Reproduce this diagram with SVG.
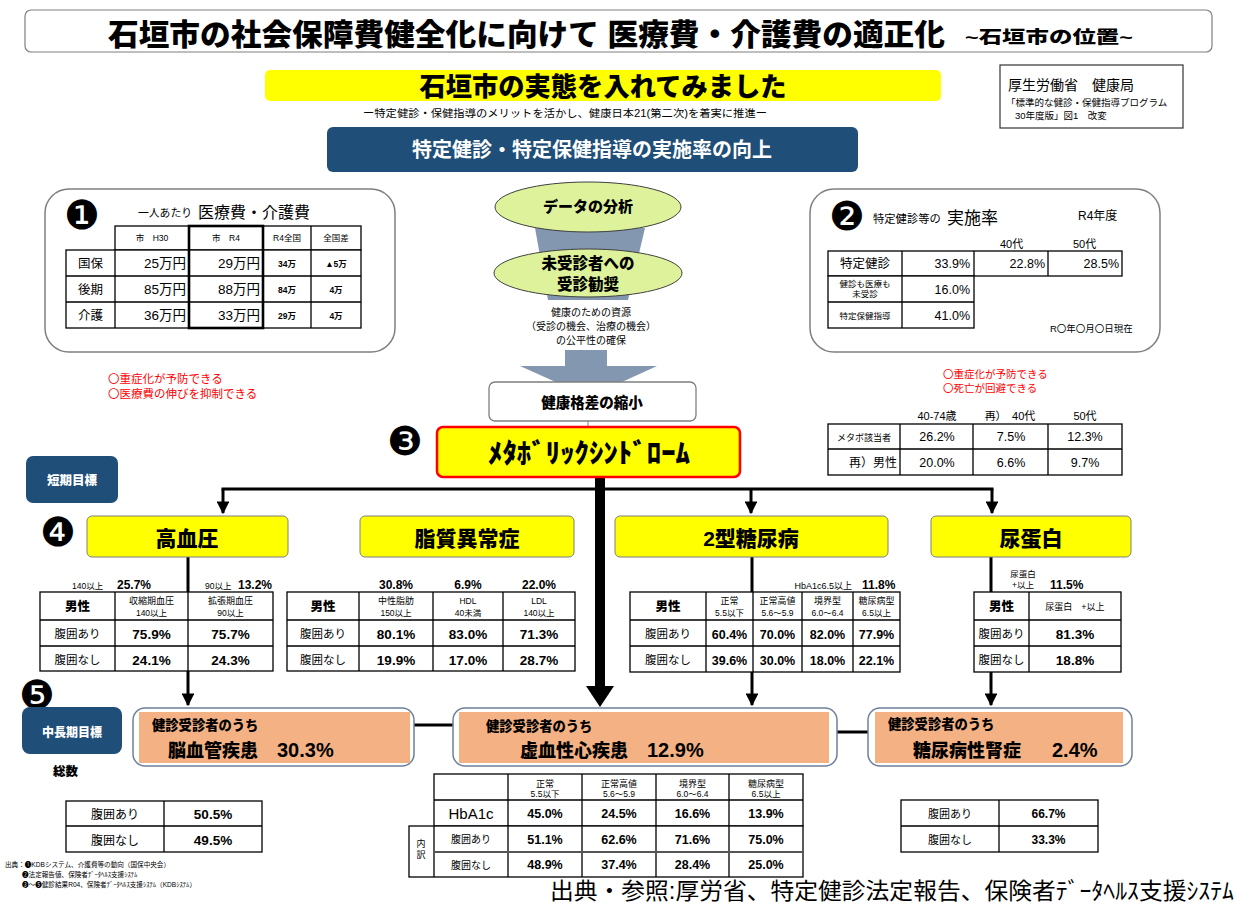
<svg xmlns="http://www.w3.org/2000/svg" width="1236" height="904" viewBox="0 0 1236 904">
<defs>
<style>
text{font-family:"Liberation Sans","Noto Sans CJK JP",sans-serif;fill:#000}
.b{font-weight:bold}
.k{font-weight:900}
.c{text-anchor:middle}
.e{text-anchor:end}
.red{fill:#FF0000}
.wt{fill:#FFFFFF}
.g{fill:#333333}
.cell{fill:#FFFFFF;stroke:#000000;stroke-width:1.3}
.ln{stroke:#000000;stroke-width:1.3;fill:none}
.circ{font-family:"DejaVu Sans",sans-serif;font-size:40px}
.ybox{fill:#FFFF00;stroke:#7F7F7F;stroke-width:1}
.navy{fill:#1F4E79}
.obox{fill:#FFFFFF;stroke:#6F7F99;stroke-width:1.5}
.orng{fill:#F4B183}
.conn{stroke:#000000;stroke-width:3;fill:none}
.ell{fill:#DDF29B;stroke:#404040;stroke-width:1}
.garr{fill:#8497B0}
.rbox{fill:#FFFFFF;stroke:#7F7F7F;stroke-width:1.3}
.v{font-weight:bold;font-size:13.5px}
.s{font-size:8.5px}
.h{font-size:9px}
.lb{font-size:11.5px}
</style>
<marker id="ah" viewBox="0 0 10 10" refX="9" refY="5" markerWidth="4.3" markerHeight="4.3" orient="auto" markerUnits="strokeWidth"><path d="M0,0 L10,5 L0,10 z" fill="#000000"/></marker>
</defs>
<rect width="1236" height="904" fill="#FFFFFF"/>

<g id="title">
<rect x="25" y="10" width="1187" height="42" rx="6" fill="#FFFFFF" stroke="#7F7F7F" stroke-width="1.2"/>
<text x="108" y="45" class="k" font-size="30" textLength="837" lengthAdjust="spacingAndGlyphs">石垣市の社会保障費健全化に向けて 医療費・介護費の適正化</text>
<text x="965" y="43" class="k" font-size="17" textLength="168" lengthAdjust="spacingAndGlyphs">~石垣市の位置~</text>
</g>

<g id="banner">
<rect x="265" y="70" width="676" height="31" rx="5" fill="#FFFF00"/>
<text x="603" y="96" class="k c" font-size="26" textLength="367" lengthAdjust="spacingAndGlyphs">石垣市の実態を入れてみました</text>
<text x="565" y="117" class="c" font-size="10.5" textLength="404" lengthAdjust="spacingAndGlyphs">ー特定健診・保健指導のメリットを活かし、健康日本21(第二次)を着実に推進ー</text>
</g>

<g id="source-note">
<rect x="1000" y="65" width="183" height="63" fill="#FFFFFF" stroke="#333333" stroke-width="1.2"/>
<text x="1008" y="90" font-size="14">厚生労働省　健康局</text>
<text x="1006" y="106" font-size="9.5">「標準的な健診・保健指導プログラム</text>
<text x="1015" y="119" font-size="9.5">30年度版」図1　改変</text>
</g>

<g id="goal-box">
<rect x="327" y="127" width="531" height="45" rx="6" class="navy"/>
<text x="592" y="157" class="b c wt" font-size="20" textLength="360" lengthAdjust="spacingAndGlyphs">特定健診・特定保健指導の実施率の向上</text>
</g>

<g id="flow-arrows">
<polygon class="garr" points="535,228 645,228 628,300 548,300"/>
<rect class="garr" x="565" y="350" width="42" height="17"/>
<polygon class="garr" points="520,366 657,366 589,397"/>
</g>

<g id="connectors">
<line x1="588" y1="421" x2="588" y2="427" stroke="#7F7F7F" stroke-width="1"/>
<line x1="600" y1="477" x2="600" y2="688" stroke="#000000" stroke-width="10"/>
<polygon points="586,686 614,686 600,707" fill="#000000"/>
<line class="conn" x1="221.5" y1="489" x2="993.5" y2="489"/>
<line class="conn" x1="223" y1="489" x2="223" y2="513" marker-end="url(#ah)"/>
<line class="conn" x1="751" y1="489" x2="751" y2="513" marker-end="url(#ah)"/>
<line class="conn" x1="992" y1="489" x2="992" y2="513" marker-end="url(#ah)"/>
<line class="conn" x1="188" y1="557" x2="188" y2="705" marker-end="url(#ah)"/>
<line class="conn" x1="752" y1="557" x2="752" y2="705" marker-end="url(#ah)"/>
<line class="conn" x1="991" y1="557" x2="991" y2="705" marker-end="url(#ah)"/>
<line class="conn" x1="414" y1="725" x2="453" y2="725"/>
<line class="conn" x1="837" y1="732" x2="868" y2="732"/>
</g>

<g id="n1-cost">
<rect x="45" y="189" width="350" height="163" rx="24" fill="#FFFFFF" stroke="#7F7F7F" stroke-width="1.5"/>
<text x="82" y="229" class="circ c">❶</text>
<text x="138" y="217" font-size="10.8">一人あたり</text>
<text x="198" y="218" font-size="16">医療費・介護費</text>
<rect x="115" y="226" width="246" height="24" class="cell"/>
<rect x="66" y="250" width="295" height="78" class="cell"/>
<path class="ln" d="M263,226V328M311,226V328M115,250V328M66,276H361M66,302H361"/>
<rect x="189" y="226" width="74" height="102" fill="none" stroke="#000000" stroke-width="2.6"/>
<g class="s c">
<text x="152" y="241">市　H30</text>
<text x="226" y="241">市　R4</text>
<text x="287" y="241">R4全国</text>
<text x="336" y="241">全国差</text>
</g>
<g font-size="12.5" class="c">
<text x="90.5" y="268">国保</text>
<text x="90.5" y="294">後期</text>
<text x="90.5" y="320">介護</text>
</g>
<g font-size="13.5" class="e">
<text x="186" y="268">25万円</text>
<text x="186" y="294">85万円</text>
<text x="186" y="320">36万円</text>
<text x="260" y="268">29万円</text>
<text x="260" y="294">88万円</text>
<text x="260" y="320">33万円</text>
</g>
<g class="s c b">
<text x="287" y="267">34万</text>
<text x="287" y="293">84万</text>
<text x="287" y="319">29万</text>
<text x="336" y="267">▲5万</text>
<text x="336" y="293">4万</text>
<text x="336" y="319">4万</text>
</g>
</g>

<g id="n2-rate">
<rect x="810" y="189" width="350" height="163" rx="24" fill="#FFFFFF" stroke="#7F7F7F" stroke-width="1.5"/>
<text x="847" y="230" class="circ c">❷</text>
<text x="873" y="223" font-size="11.3">特定健診等の</text>
<text x="947" y="224" font-size="17">実施率</text>
<text x="1078" y="220" font-size="12">R4年度</text>
<text x="1000" y="248" font-size="11">40代</text>
<text x="1073" y="248" font-size="11">50代</text>
<rect x="828" y="251" width="294" height="25" class="cell"/>
<rect x="828" y="276" width="146" height="52" class="cell"/>
<path class="ln" d="M902,251V328M974,251V276M1048,251V276M828,302H974"/>
<text x="865" y="268" font-size="12.5" class="c">特定健診</text>
<text x="865" y="287" class="s c">健診も医療も</text>
<text x="865" y="297" class="s c">未受診</text>
<text x="865" y="319" class="s c">特定保健指導</text>
<g font-size="12.5" class="e">
<text x="970" y="268">33.9%</text>
<text x="1045" y="268">22.8%</text>
<text x="1119" y="268">28.5%</text>
<text x="970" y="294">16.0%</text>
<text x="970" y="320">41.0%</text>
</g>
<text x="1050" y="332" font-size="9.5">R〇年〇月〇日現在</text>
</g>

<g id="e1-analysis">
<ellipse cx="588" cy="207" rx="93" ry="25" class="ell"/>
<text x="588" y="212" class="k c" font-size="15">データの分析</text>
</g>

<g id="e2-recommend">
<ellipse cx="588" cy="273" rx="94" ry="24" class="ell"/>
<text x="588" y="269" class="k c" font-size="15.5">未受診者への</text>
<text x="588" y="290" class="k c" font-size="15.5">受診勧奨</text>
</g>

<g id="resource-note" class="c g" font-size="10">
<text x="591" y="316">健康のための資源</text>
<text x="591" y="330">（受診の機会、治療の機会）</text>
<text x="591" y="344">の公平性の確保</text>
</g>

<g id="gap-box">
<rect x="489" y="382" width="207" height="39" rx="6" class="rbox"/>
<text x="592" y="408" class="k c" font-size="14.5">健康格差の縮小</text>
</g>

<g id="n3-metabo">
<text x="405" y="455" class="circ c">❸</text>
<rect x="437" y="427" width="303" height="50" rx="6" fill="#FFFF00" stroke="#FF0000" stroke-width="2.5"/>
<text x="589" y="463" class="k c" font-size="27" textLength="202" lengthAdjust="spacingAndGlyphs">ﾒﾀﾎﾞﾘｯｸｼﾝﾄﾞﾛｰﾑ</text>
</g>

<g id="effects-left" font-size="11.5">
<text x="108" y="383" class="red">〇重症化が予防できる</text>
<text x="108" y="398" class="red">〇医療費の伸びを抑制できる</text>
</g>
<g id="effects-right" font-size="10.5">
<text x="943" y="378" class="red">〇重症化が予防できる</text>
<text x="943" y="392" class="red">〇死亡が回避できる</text>
</g>

<g id="metabo-table">
<g font-size="11" class="c">
<text x="937" y="420">40-74歳</text>
<text x="1010" y="420">再）　40代</text>
<text x="1085" y="420">50代</text>
</g>
<rect x="828" y="424" width="294" height="51" class="cell"/>
<path class="ln" d="M900,424V475M973,424V475M1048,424V475M828,449H1122"/>
<text x="864" y="441" class="h c">メタボ該当者</text>
<text x="897" y="467" class="e" font-size="12">再）男性</text>
<g font-size="12.5" class="c">
<text x="937" y="441">26.2%</text>
<text x="1011" y="441">7.5%</text>
<text x="1085" y="441">12.3%</text>
<text x="937" y="467">20.0%</text>
<text x="1011" y="467">6.6%</text>
<text x="1085" y="467">9.7%</text>
</g>
</g>

<g id="short-goal">
<rect x="26" y="456" width="92" height="47" rx="7" class="navy"/>
<text x="72" y="485" class="k c wt" font-size="12.5">短期目標</text>
<text x="58" y="546" class="circ c">❹</text>
</g>

<g id="hypertension">
<rect x="87" y="516" width="201" height="41" rx="5" class="ybox"/>
<text x="187" y="546" class="k c" font-size="21">高血圧</text>
<text x="72" y="589" class="s">140以上</text>
<text x="117" y="589" class="b" font-size="12">25.7%</text>
<text x="205" y="589" class="s">90以上</text>
<text x="238" y="589" class="b" font-size="12">13.2%</text>
<rect x="40" y="592" width="233" height="79" class="cell"/>
<path class="ln" d="M115,592V671M188,592V671M40,620H273M40,646H273"/>
<text x="77.5" y="611" class="k c" font-size="12.5">男性</text>
<text x="151.5" y="604" class="h c">収縮期血圧</text>
<text x="151.5" y="616" class="s c">140以上</text>
<text x="230.5" y="604" class="h c">拡張期血圧</text>
<text x="230.5" y="616" class="s c">90以上</text>
<text x="77.5" y="638" class="lb c">腹囲あり</text>
<text x="77.5" y="664" class="lb c">腹囲なし</text>
<g class="v c">
<text x="151.5" y="639">75.9%</text>
<text x="230.5" y="639">75.7%</text>
<text x="151.5" y="665">24.1%</text>
<text x="230.5" y="665">24.3%</text>
</g>
</g>

<g id="dyslipidemia">
<rect x="360" y="516" width="214" height="41" rx="5" class="ybox"/>
<text x="467" y="546" class="k c" font-size="21">脂質異常症</text>
<g class="b c" font-size="12">
<text x="396" y="589">30.8%</text>
<text x="468" y="589">6.9%</text>
<text x="539" y="589">22.0%</text>
</g>
<rect x="287" y="592" width="288" height="79" class="cell"/>
<path class="ln" d="M359,592V671M433,592V671M503,592V671M287,620H575M287,646H575"/>
<text x="323" y="611" class="k c" font-size="12.5">男性</text>
<text x="396" y="604" class="h c">中性脂肪</text>
<text x="396" y="616" class="s c">150以上</text>
<text x="468" y="604" class="s c">HDL</text>
<text x="468" y="616" class="s c">40未満</text>
<text x="539" y="604" class="s c">LDL</text>
<text x="539" y="616" class="s c">140以上</text>
<text x="323" y="638" class="lb c">腹囲あり</text>
<text x="323" y="664" class="lb c">腹囲なし</text>
<g class="v c">
<text x="396" y="639">80.1%</text>
<text x="468" y="639">83.0%</text>
<text x="539" y="639">71.3%</text>
<text x="396" y="665">19.9%</text>
<text x="468" y="665">17.0%</text>
<text x="539" y="665">28.7%</text>
</g>
</g>

<g id="diabetes">
<rect x="615" y="516" width="273" height="41" rx="5" class="ybox"/>
<text x="751" y="546" class="k c" font-size="21">2型糖尿病</text>
<text x="852" y="589" class="h e">HbA1c6.5以上</text>
<text x="862" y="589" class="b" font-size="12">11.8%</text>
<rect x="630" y="592" width="270" height="80" class="cell"/>
<path class="ln" d="M706,592V672M753,592V672M802,592V672M853,592V672M630,620H900M630,646H900"/>
<text x="668" y="611" class="k c" font-size="12.5">男性</text>
<text x="729.5" y="604" class="h c">正常</text>
<text x="729.5" y="616" class="s c">5.5以下</text>
<text x="777.5" y="604" class="h c">正常高値</text>
<text x="777.5" y="616" class="s c">5.6～5.9</text>
<text x="827.5" y="604" class="h c">境界型</text>
<text x="827.5" y="616" class="s c">6.0～6.4</text>
<text x="876.5" y="604" class="h c">糖尿病型</text>
<text x="876.5" y="616" class="s c">6.5以上</text>
<text x="668" y="638" class="lb c">腹囲あり</text>
<text x="668" y="664" class="lb c">腹囲なし</text>
<g class="c b" font-size="12.5">
<text x="729.5" y="639">60.4%</text>
<text x="777.5" y="639">70.0%</text>
<text x="827.5" y="639">82.0%</text>
<text x="876.5" y="639">77.9%</text>
<text x="729.5" y="665">39.6%</text>
<text x="777.5" y="665">30.0%</text>
<text x="827.5" y="665">18.0%</text>
<text x="876.5" y="665">22.1%</text>
</g>
</g>

<g id="proteinuria">
<rect x="931" y="516" width="200" height="41" rx="5" class="ybox"/>
<text x="1031" y="546" class="k c" font-size="21">尿蛋白</text>
<text x="1023" y="577" class="s c">尿蛋白</text>
<text x="1023" y="588" class="s c">+以上</text>
<text x="1050" y="589" class="b" font-size="12">11.5%</text>
<rect x="974" y="592" width="147" height="80" class="cell"/>
<path class="ln" d="M1029,592V672M974,620H1121M974,646H1121"/>
<text x="1001.5" y="611" class="k c" font-size="12.5">男性</text>
<text x="1075" y="610" class="h c">尿蛋白　+以上</text>
<text x="1001.5" y="638" class="lb c">腹囲あり</text>
<text x="1001.5" y="664" class="lb c">腹囲なし</text>
<text x="1075" y="639" class="v c">81.3%</text>
<text x="1075" y="665" class="v c">18.8%</text>
</g>

<g id="long-goal">
<text x="37" y="709" class="circ c">❺</text>
<rect x="22" y="707" width="100" height="47" rx="8" class="navy"/>
<text x="72" y="737" class="k c wt" font-size="12">中長期目標</text>
<text x="53" y="776" class="k" font-size="12.5">総数</text>
</g>

<g id="cerebrovascular">
<rect x="133" y="708" width="281" height="58" rx="12" class="obox"/>
<rect x="139" y="712" width="271" height="51" class="orng"/>
<text x="152" y="730" class="k" font-size="13.3">健診受診者のうち</text>
<text x="168" y="757" class="k" font-size="18">脳血管疾患</text>
<text x="277" y="757" class="b" font-size="20">30.3%</text>
<rect x="66" y="801" width="196" height="51" class="cell"/>
<path class="ln" d="M164,801V852M66,826H262"/>
<text x="115" y="819" class="c" font-size="12">腹囲あり</text>
<text x="115" y="845" class="c" font-size="12">腹囲なし</text>
<text x="213" y="819" class="v c">50.5%</text>
<text x="213" y="845" class="v c">49.5%</text>
</g>

<g id="ischemic-heart">
<rect x="453" y="708" width="384" height="58" rx="12" class="obox"/>
<rect x="459" y="712" width="370" height="51" class="orng"/>
<text x="486" y="731" class="k" font-size="13.3">健診受診者のうち</text>
<text x="520" y="757" class="k" font-size="18">虚血性心疾患</text>
<text x="647" y="757" class="b" font-size="20">12.9%</text>
<rect x="434" y="774" width="369" height="52" class="cell"/>
<rect x="409" y="826" width="394" height="51" class="cell"/>
<path class="ln" d="M508,774V877M582,774V877M656,774V877M729,774V877M434,826V877M434,800H803"/>
<line x1="434" y1="852" x2="803" y2="852" stroke="#555555" stroke-width="2"/>
<text x="545" y="787" class="h c">正常</text>
<text x="545" y="797" class="s c">5.5以下</text>
<text x="619" y="787" class="h c">正常高値</text>
<text x="619" y="797" class="s c">5.6～5.9</text>
<text x="692.5" y="787" class="h c">境界型</text>
<text x="692.5" y="797" class="s c">6.0～6.4</text>
<text x="766" y="787" class="h c">糖尿病型</text>
<text x="766" y="797" class="s c">6.5以上</text>
<text x="471" y="819" class="c" font-size="15">HbA1c</text>
<text x="421" y="847" class="h c">内</text>
<text x="421" y="858" class="h c">訳</text>
<text x="471" y="843" class="c" font-size="10">腹囲あり</text>
<text x="471" y="869" class="c" font-size="10">腹囲なし</text>
<g class="b c" font-size="12.5">
<text x="545" y="818">45.0%</text>
<text x="619" y="818">24.5%</text>
<text x="692.5" y="818">16.6%</text>
<text x="766" y="818">13.9%</text>
<text x="545" y="844">51.1%</text>
<text x="619" y="844">62.6%</text>
<text x="692.5" y="844">71.6%</text>
<text x="766" y="844">75.0%</text>
<text x="545" y="869">48.9%</text>
<text x="619" y="869">37.4%</text>
<text x="692.5" y="869">28.4%</text>
<text x="766" y="869">25.0%</text>
</g>
</g>

<g id="nephropathy">
<rect x="868" y="708" width="264" height="58" rx="12" class="obox"/>
<rect x="875" y="712" width="248" height="51" class="orng"/>
<text x="888" y="729" class="k" font-size="13.3">健診受診者のうち</text>
<text x="913" y="757" class="k" font-size="18">糖尿病性腎症</text>
<text x="1052" y="757" class="b" font-size="20">2.4%</text>
<rect x="901" y="800" width="197" height="52" class="cell"/>
<path class="ln" d="M999,800V852M901,826H1098"/>
<text x="950" y="818" class="c" font-size="11">腹囲あり</text>
<text x="950" y="844" class="c" font-size="11">腹囲なし</text>
<text x="1048.5" y="818" class="b c" font-size="12">66.7%</text>
<text x="1048.5" y="844" class="b c" font-size="12">33.3%</text>
</g>

<g id="footnotes" font-size="6.6">
<text x="5" y="867">出典：❶KDBシステム、介護費等の動向（国保中央会）</text>
<text x="22" y="877">❷法定報告値、保険者ﾃﾞｰﾀﾍﾙｽ支援ｼｽﾃﾑ</text>
<text x="22" y="887">❸～❺健診結果R04、保険者ﾃﾞｰﾀﾍﾙｽ支援ｼｽﾃﾑ（KDBｼｽﾃﾑ）</text>
</g>

<g id="reference">
<text x="550" y="899" font-size="23" textLength="684" lengthAdjust="spacingAndGlyphs">出典・参照:厚労省、特定健診法定報告、保険者ﾃﾞｰﾀﾍﾙｽ支援ｼｽﾃﾑ</text>
</g>
</svg>
